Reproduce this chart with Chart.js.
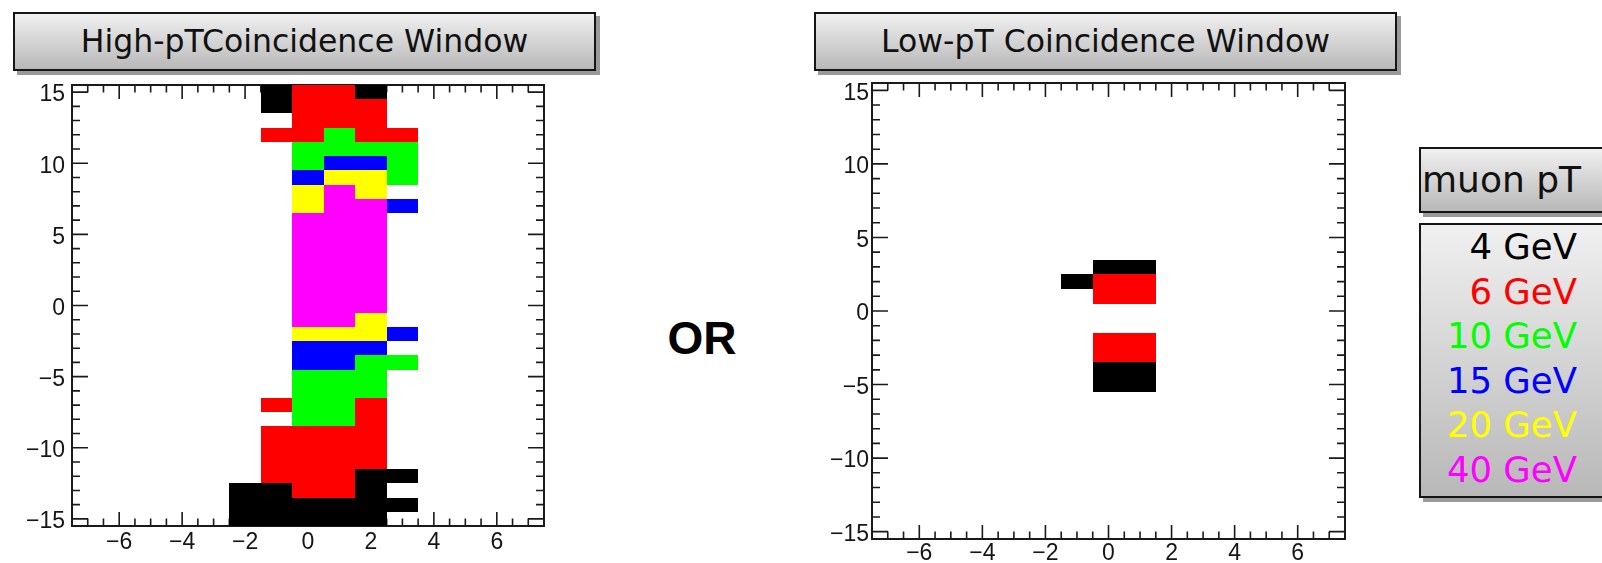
<!DOCTYPE html>
<html lang="en">
<head>
<meta charset="UTF-8">
<title>Coincidence Window</title>
<script src="https://cdn.jsdelivr.net/npm/chart.js"></script>
<style>
  body { margin: 0; width: 1602px; height: 563px; overflow: hidden; background: #fff; position: relative; }
  canvas { position: absolute; top: 0; }
  .box {
    position: absolute; box-sizing: border-box;
    border: 2px solid #151515;
    background: linear-gradient(#f0f0f0, #b8b8b8);
    box-shadow: 4px 4px 0 #9a9a9a;
    font-family: 'DejaVu Sans', sans-serif; color: #111;
  }
  .title { top: 12px; width: 583px; height: 59px; line-height: 55px; font-size: 31.5px; text-align: center; }
  #or { position: absolute; left: 660px; top: 311px; width: 84px; text-align: center;
        font: bold 46px 'Liberation Sans', Arial, sans-serif; color: #000; }
  #legTitle { left: 1419px; top: 147px; width: 200px; height: 66px; font-size: 36px; line-height: 62px; padding-left: 1px; }
  #legBox { left: 1419px; top: 223px; width: 200px; height: 275px; }
  #legBox div { width: 156px; text-align: right; font-size: 35.5px; line-height: 44.5px; white-space: nowrap; }
</style>
</head>
<body>
  <div class="box title" style="left:13px">High-pTCoincidence Window</div>
  <div class="box title" style="left:814px">Low-pT Coincidence Window</div>
  <canvas id="highChart" width="560" height="563" style="left:0px"></canvas>
  <canvas id="lowChart" width="560" height="563" style="left:800px"></canvas>
  <div id="or">OR</div>
  <div class="box" id="legTitle">muon pT</div>
  <div class="box" id="legBox"></div>
<script>
// pT thresholds and their colours
const ptValues = [4, 6, 10, 15, 20, 40];
const ptColors = ['#000000', '#ff0000', '#00ff00', '#0000ff', '#ffff00', '#ff00ff'];

// axis tick labels
const xTicks = [-6, -4, -2, 0, 2, 4, 6];
const yTicks = [-15, -10, -5, 0, 5, 10, 15];

// high-pT window: columns (x) and rows (y), cell = pT threshold (0 = empty)
const highCols = [-2, -1, 0, 1, 2, 3];
const highRows = [15, 14, 13, 12, 11, 10, 9, 8, 7, 6, 5, 4, 3, 2, 1, 0,
  -1, -2, -3, -4, -5, -6, -7, -8, -9, -10, -11, -12, -13, -14, -15];
const highGrid = [
  [0, 4, 6, 6, 4, 0],
  [0, 4, 6, 6, 6, 0],
  [0, 0, 6, 6, 6, 0],
  [0, 6, 6, 10, 6, 6],
  [0, 0, 10, 10, 10, 10],
  [0, 0, 10, 15, 15, 10],
  [0, 0, 15, 20, 20, 10],
  [0, 0, 20, 40, 20, 0],
  [0, 0, 20, 40, 40, 15],
  [0, 0, 40, 40, 40, 0],
  [0, 0, 40, 40, 40, 0],
  [0, 0, 40, 40, 40, 0],
  [0, 0, 40, 40, 40, 0],
  [0, 0, 40, 40, 40, 0],
  [0, 0, 40, 40, 40, 0],
  [0, 0, 40, 40, 40, 0],
  [0, 0, 40, 40, 20, 0],
  [0, 0, 20, 20, 20, 15],
  [0, 0, 15, 15, 15, 0],
  [0, 0, 15, 15, 10, 10],
  [0, 0, 10, 10, 10, 0],
  [0, 0, 10, 10, 10, 0],
  [0, 6, 10, 10, 6, 0],
  [0, 0, 10, 10, 6, 0],
  [0, 6, 6, 6, 6, 0],
  [0, 6, 6, 6, 6, 0],
  [0, 6, 6, 6, 6, 0],
  [0, 6, 6, 6, 4, 4],
  [4, 4, 6, 6, 4, 0],
  [4, 4, 4, 4, 4, 4],
  [4, 4, 4, 4, 4, 0]
];

// low-pT window
const lowCols = [-1, 0, 1];
const lowRows = [3, 2, 1, 0, -1, -2, -3, -4, -5];
const lowGrid = [
  [0, 4, 4],
  [4, 6, 6],
  [0, 6, 6],
  [0, 0, 0],
  [0, 0, 0],
  [0, 6, 6],
  [0, 6, 6],
  [0, 4, 4],
  [0, 4, 4]
];

function buildDatasets(cols, rows, grid) {
  return ptValues.map((pt, i) => {
    const pts = [];
    rows.forEach((yv, r) => {
      cols.forEach((xv, c) => {
        if (grid[r][c] === pt) pts.push({x: xv, y: yv});
      });
    });
    return { label: pt + ' GeV', data: pts, backgroundColor: ptColors[i], pointRadius: 0 };
  });
}

function fmt(v) {
  return v < 0 ? '\u2212' + Math.abs(v) : String(v);
}

// ticks inward on all four sides + frame, then the coloured cells on top
const rootStyle = {
  id: 'rootStyle',
  beforeDatasetsDraw(chart) {
    const {ctx, chartArea: a, scales: {x, y}} = chart;
    ctx.save();
    ctx.strokeStyle = '#1a1a1a';
    ctx.lineWidth = 1.6;
    ctx.beginPath();
    for (let v = -7; v <= 7; v += 0.5) {
      const px = x.getPixelForValue(v);
      const len = xTicks.includes(v) ? 14 : 7.5;
      ctx.moveTo(px, a.bottom); ctx.lineTo(px, a.bottom - len);
      ctx.moveTo(px, a.top); ctx.lineTo(px, a.top + len);
    }
    for (let v = -15; v <= 15; v++) {
      const py = y.getPixelForValue(v);
      const len = yTicks.includes(v) ? 16 : 8;
      ctx.moveTo(a.left, py); ctx.lineTo(a.left + len, py);
      ctx.moveTo(a.right, py); ctx.lineTo(a.right - len, py);
    }
    ctx.stroke();
    ctx.lineWidth = 2;
    ctx.strokeRect(a.left, a.top, a.right - a.left, a.bottom - a.top);

    chart.data.datasets.forEach(ds => {
      ctx.fillStyle = ds.backgroundColor;
      ds.data.forEach(p => {
        const x0 = Math.round(x.getPixelForValue(p.x - 0.5)), x1 = Math.round(x.getPixelForValue(p.x + 0.5));
        const y0 = Math.round(y.getPixelForValue(p.y + 0.5)), y1 = Math.round(y.getPixelForValue(p.y - 0.5));
        ctx.fillRect(x0, y0, x1 - x0, y1 - y0);
      });
    });
    ctx.restore();
  }
};

function makeChart(id, cols, rows, grid, box) {
  const tickFont = { family: 'Liberation Sans', size: 23 };
  return new Chart(document.getElementById(id), {
    type: 'scatter',
    data: { datasets: buildDatasets(cols, rows, grid) },
    options: {
      responsive: false,
      animation: false,
      layout: { padding: { top: box.top, right: box.right, left: 0, bottom: 0 } },
      plugins: { legend: { display: false }, tooltip: { enabled: false } },
      scales: {
        x: {
          type: 'linear', min: -7.5, max: 7.5,
          grid: { display: false, drawTicks: false }, border: { display: false },
          afterBuildTicks: s => { s.ticks = xTicks.map(v => ({ value: v })); },
          afterFit: s => { s.height = box.xh; },
          ticks: { font: tickFont, color: '#151515', padding: box.xpad, autoSkip: false, maxRotation: 0, callback: fmt }
        },
        y: {
          type: 'linear', min: -15.5, max: 15.5,
          grid: { display: false, drawTicks: false }, border: { display: false },
          afterBuildTicks: s => { s.ticks = yTicks.map(v => ({ value: v })); },
          afterFit: s => { s.width = 72; },
          ticks: { font: tickFont, color: '#151515', padding: box.ypad, labelOffset: 3, autoSkip: false, callback: fmt }
        }
      }
    },
    plugins: [rootStyle]
  });
}

document.addEventListener('DOMContentLoaded', () => {
  makeChart('highChart', highCols, highRows, highGrid, { top: 85, right: 16, xh: 37, xpad: 3, ypad: 7 });
  makeChart('lowChart', lowCols, lowRows, lowGrid, { top: 83, right: 15, xh: 24, xpad: 1, ypad: 3 });

  const leg = document.getElementById('legBox');
  ptValues.forEach((pt, i) => {
    const d = document.createElement('div');
    d.textContent = pt + ' GeV';
    d.style.color = ptColors[i];
    leg.appendChild(d);
  });
});
</script>
</body>
</html>
